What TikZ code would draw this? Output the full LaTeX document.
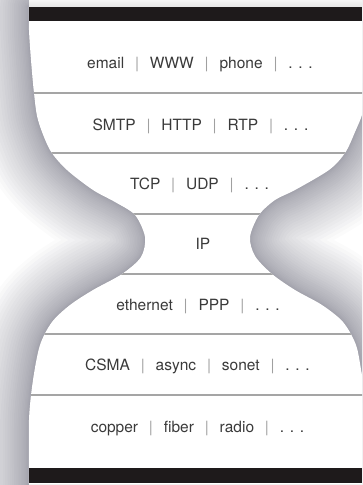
\documentclass[tikz,border=0pt]{standalone}
\usepackage{fontspec}
\setmainfont{TeX Gyre Heros}
\definecolor{barblack}{HTML}{1E1A1B}
\definecolor{txt}{HTML}{3A3A3A}
\definecolor{sepgray}{HTML}{A0A0A0}
\definecolor{linegray}{HTML}{A5A5A5}
\definecolor{shadowc}{RGB}{40,40,62}
\newcommand\sepbar{\hspace{0.7em}{\color{sepgray}|}\hspace{0.7em}}
\newcommand\moredots{.\hspace{0.37em}.\hspace{0.37em}.}
\begin{document}
\begin{tikzpicture}[x=1pt,y=-1pt,
  rowtext/.style={anchor=base, text=txt, font=\fontsize{15.5}{18}\selectfont, inner sep=0pt},
  sepline/.style={draw=linegray, line width=1.8pt},
  glow/.style={draw=shadowc, draw opacity=0.018, line cap=round, line join=round}]
\useasboundingbox (0,0) rectangle (362,485);
\clip (0,0) rectangle (362,485);
\path[save path=\leftP] plot[smooth] coordinates {(29,7) (29,30) (31,60) (34,93) (38,120) (50,150) (67,170) (93,190) (115,202) (135,215) (145,237) (141,257) (122,274) (93,290) (70,305) (52,322) (40,345) (33,380) (29,420) (29,484)};
\path[save path=\rightP] plot[smooth] coordinates {(372,484) (372,430) (362,375) (356,345) (343,322) (322,305) (295,290) (272,274) (255,256) (250,237) (259,215) (275,200) (295,190) (329,170) (345,153) (355,132) (364,108) (372,60) (372,7)};
% shadow glow
\foreach \i in {1,...,30}{
  \pgfmathsetmacro\w{125*(\i/30)^1.7}
  \draw[glow, line width=\w pt, use path=\leftP];
  \draw[glow, line width=\w pt, use path=\rightP];
}
\shade[top color=gray!8, bottom color=gray!20] (29,0) rectangle (362,7);
\fill[gray!12] (29,484) rectangle (362,485);
% white hourglass
\fill[white] plot[smooth] coordinates {(29,7) (29,30) (31,60) (34,93) (38,120) (50,150) (67,170) (93,190) (115,202) (135,215) (145,237) (141,257) (122,274) (93,290) (70,305) (52,322) (40,345) (33,380) (29,420) (29,484)}
  -- plot[smooth] coordinates {(372,484) (372,430) (362,375) (356,345) (343,322) (322,305) (295,290) (272,274) (255,256) (250,237) (259,215) (275,200) (295,190) (329,170) (345,153) (355,132) (364,108) (372,60) (372,7)} -- cycle;
\begin{scope}
\clip plot[smooth] coordinates {(29,7) (29,30) (31,60) (34,93) (38,120) (50,150) (67,170) (93,190) (115,202) (135,215) (145,237) (141,257) (122,274) (93,290) (70,305) (52,322) (40,345) (33,380) (29,420) (29,484)}
  -- plot[smooth] coordinates {(372,484) (372,430) (362,375) (356,345) (343,322) (322,305) (295,290) (272,274) (255,256) (250,237) (259,215) (275,200) (295,190) (329,170) (345,153) (355,132) (364,108) (372,60) (372,7)} -- cycle;
\coordinate (l1a) at (0,93);  \coordinate (l1b) at (370,93);
\coordinate (l2a) at (0,153); \coordinate (l2b) at (370,153);
\coordinate (l3a) at (0,214); \coordinate (l3b) at (370,214);
\coordinate (l4a) at (0,274); \coordinate (l4b) at (370,274);
\coordinate (l5a) at (0,334); \coordinate (l5b) at (370,334);
\coordinate (l6a) at (0,395); \coordinate (l6b) at (370,395);
\draw[sepline] (l1a) -- (l1b);
\draw[sepline] (l2a) -- (l2b);
\draw[sepline] (l3a) -- (l3b);
\draw[sepline] (l4a) -- (l4b);
\draw[sepline] (l5a) -- (l5b);
\draw[sepline] (l6a) -- (l6b);
\end{scope}
% black bars
\fill[barblack] (29,7) rectangle (362,21);
\fill[barblack] (29,468) rectangle (362,483);
% texts
\node[rowtext] (app)  at (200,68.3) {email\sepbar WWW\sepbar phone\sepbar\moredots};
\node[rowtext] (proto) at (200.5,130.5) {SMTP\sepbar HTTP\sepbar RTP\sepbar\moredots};
\node[rowtext] (trans) at (199.5,189.3) {TCP\sepbar UDP\sepbar\moredots};
\node[rowtext] (ip)    at (203,249.3) {IP};
\node[rowtext] (link)  at (198,310) {ethernet\sepbar PPP\sepbar\moredots};
\node[rowtext] (mac)   at (197.5,370.5) {CSMA\sepbar async\sepbar sonet\sepbar\moredots};
\node[rowtext] (phys)  at (197.5,432) {copper\sepbar fiber\sepbar radio\sepbar\moredots};
\end{tikzpicture}
\end{document}
